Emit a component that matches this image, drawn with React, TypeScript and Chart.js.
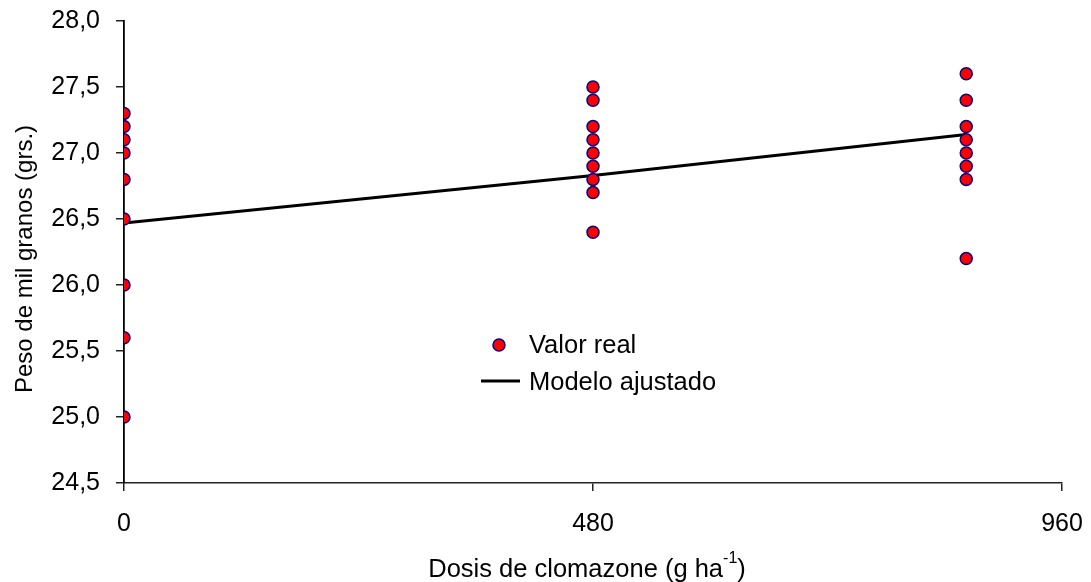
import React, { useEffect, useRef } from 'react';
import { Chart, registerables } from 'chart.js';

Chart.register(...registerables);

// ---- data ----
const doseLevels = [0, 480, 862];
const weightsDose0 = [27.3, 27.2, 27.1, 27.0, 26.8, 26.5, 26.0, 25.6, 25.0];
const weightsDose480 = [27.5, 27.4, 27.2, 27.1, 27.0, 26.9, 26.8, 26.7, 26.4];
const weightsDose860 = [27.6, 27.4, 27.2, 27.1, 27.0, 26.9, 26.8, 26.2];
const modelDoses = [0, 480, 862];
const modelWeights = [26.47, 26.83, 27.14];
const xTickValues = [0, 480, 960];
const yMin = 24.5;
const yMax = 28.0;
const yStep = 0.5;

const FONT = '"Liberation Sans", Arial, sans-serif';
const POINT_FILL = '#ff0000';
const POINT_BORDER = '#000080';

const realPoints = [
  ...weightsDose0.map((y) => ({ x: doseLevels[0], y })),
  ...weightsDose480.map((y) => ({ x: doseLevels[1], y })),
  ...weightsDose860.map((y) => ({ x: doseLevels[2], y })),
];
const modelPoints = modelDoses.map((x, i) => ({ x, y: modelWeights[i] }));

const annotationsPlugin = {
  id: 'customText',
  afterDraw(chart: any) {
    const ctx = chart.ctx as CanvasRenderingContext2D;
    const area = chart.chartArea;
    ctx.save();
    ctx.fillStyle = '#000';

    // Y axis title
    ctx.save();
    ctx.translate(25, (area.top + area.bottom) / 2 + 7);
    ctx.rotate(-Math.PI / 2);
    ctx.font = `24px ${FONT}`;
    ctx.textAlign = 'center';
    ctx.textBaseline = 'middle';
    ctx.fillText('Peso de mil granos (grs.)', 0, 0);
    ctx.restore();

    // X axis title with superscript
    const main = 'Dosis de clomazone (g ha';
    const sup = '-1';
    const close = ')';
    ctx.font = `25.5px ${FONT}`;
    const wMain = ctx.measureText(main).width;
    const wClose = ctx.measureText(close).width;
    ctx.font = `16px ${FONT}`;
    const wSup = ctx.measureText(sup).width;
    const total = wMain + wSup + wClose;
    const cx = 587;
    const baseY = 577;
    let x = cx - total / 2;
    ctx.textAlign = 'left';
    ctx.textBaseline = 'alphabetic';
    ctx.font = `25.5px ${FONT}`;
    ctx.fillText(main, x, baseY);
    x += wMain;
    ctx.font = `16px ${FONT}`;
    ctx.fillText(sup, x, baseY - 14);
    x += wSup;
    ctx.font = `25.5px ${FONT}`;
    ctx.fillText(close, x, baseY);

    // Legend
    ctx.beginPath();
    ctx.arc(499, 345, 6, 0, Math.PI * 2);
    ctx.fillStyle = POINT_FILL;
    ctx.fill();
    ctx.lineWidth = 1.5;
    ctx.strokeStyle = POINT_BORDER;
    ctx.stroke();

    ctx.beginPath();
    ctx.moveTo(481, 381);
    ctx.lineTo(520, 381);
    ctx.lineWidth = 3;
    ctx.strokeStyle = '#000';
    ctx.stroke();

    ctx.fillStyle = '#000';
    ctx.font = `25.5px ${FONT}`;
    ctx.textBaseline = 'middle';
    ctx.fillText('Valor real', 529, 346);
    ctx.fillText('Modelo ajustado', 529, 383);
    ctx.restore();
  },
};

export default function App() {
  const canvasRef = useRef<HTMLCanvasElement | null>(null);

  useEffect(() => {
    const canvas = canvasRef.current;
    if (!canvas) return;
    const chart = new Chart(canvas, {
      type: 'scatter',
      data: {
        datasets: [
          {
            label: 'Modelo ajustado',
            data: modelPoints,
            showLine: true,
            borderColor: '#000',
            borderWidth: 3,
            pointRadius: 0,
            fill: false,
            tension: 0,
            order: 2,
          },
          {
            label: 'Valor real',
            data: realPoints,
            backgroundColor: POINT_FILL,
            borderColor: POINT_BORDER,
            borderWidth: 1.5,
            pointRadius: 6,
            order: 1,
          },
        ],
      },
      options: {
        responsive: false,
        animation: false,
        layout: { autoPadding: false, padding: { top: 21, right: 29, left: 0, bottom: 0 } },
        plugins: {
          legend: { display: false },
          tooltip: { enabled: false },
          title: { display: false },
        },
        scales: {
          x: {
            type: 'linear',
            min: xTickValues[0],
            max: xTickValues[xTickValues.length - 1],
            afterBuildTicks: (scale: any) => {
              scale.ticks = xTickValues.map((v) => ({ value: v }));
            },
            afterFit: (scale: any) => {
              scale.height = 99;
              scale.paddingLeft = 0;
              scale.paddingRight = 0;
            },
            ticks: {
              color: '#000',
              font: { family: FONT, size: 25 },
              padding: 18,
              maxRotation: 0,
              callback: (v: any) => String(v),
            },
            grid: {
              display: true,
              drawOnChartArea: false,
              drawTicks: true,
              tickLength: 8,
              color: '#222',
              lineWidth: 1.5,
            },
            border: { display: true, color: '#222', width: 1.5 },
          },
          y: {
            type: 'linear',
            min: yMin,
            max: yMax,
            afterFit: (scale: any) => {
              scale.width = 124;
              scale.paddingTop = 0;
              scale.paddingBottom = 0;
            },
            ticks: {
              stepSize: yStep,
              color: '#000',
              font: { family: FONT, size: 25 },
              padding: 16,
              callback: (v: any) => Number(v).toFixed(1).replace('.', ','),
            },
            grid: {
              display: true,
              drawOnChartArea: false,
              drawTicks: true,
              tickLength: 8,
              color: '#222',
              lineWidth: 1.5,
            },
            border: { display: true, color: '#000', width: 1.8 },
          },
        },
      },
      plugins: [annotationsPlugin],
    });
    return () => chart.destroy();
  }, []);

  return (
    <div style={{ position: 'fixed', left: 0, top: 0, width: 1091, height: 582, background: '#fff' }}>
      <canvas ref={canvasRef} width={1091} height={582} style={{ display: 'block' }} />
    </div>
  );
}
